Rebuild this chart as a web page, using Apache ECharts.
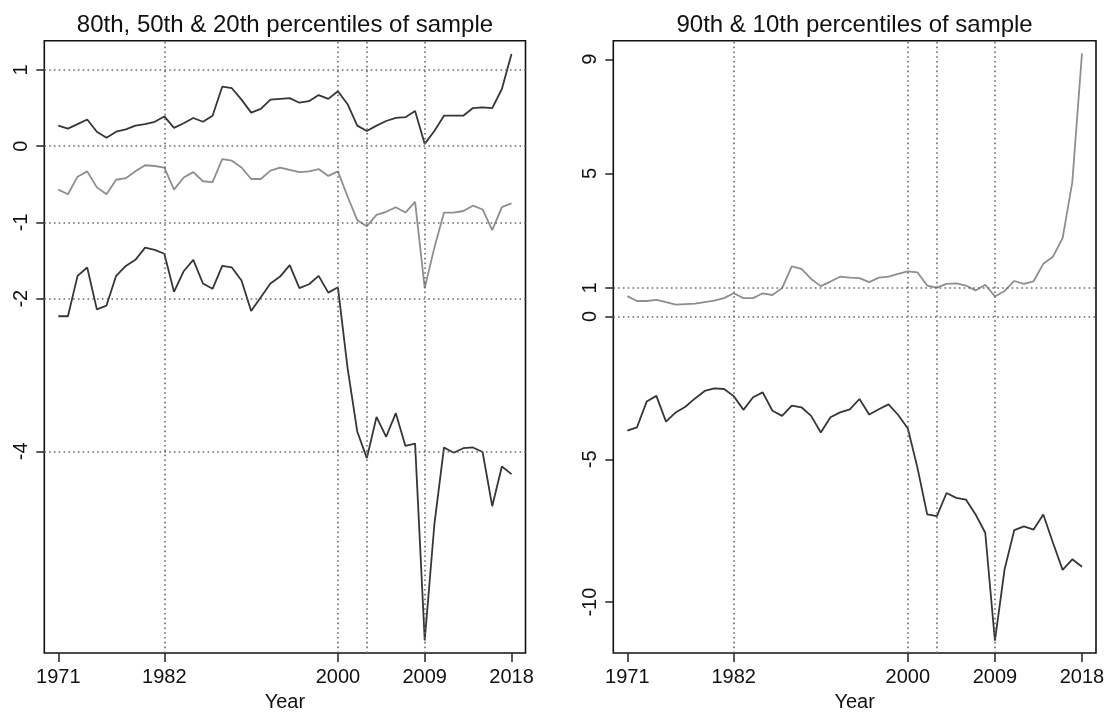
<!DOCTYPE html>
<html>
<head>
<meta charset="utf-8">
<script src="https://cdn.jsdelivr.net/npm/echarts@6/dist/echarts.min.js"></script>
<style>
html,body{margin:0;padding:0;background:#fff;}
#chart{width:1108px;height:717px;}
</style>
</head>
<body>
<div id="chart"></div>
<script>
// ---- data ----
const years = [1971,1972,1973,1974,1975,1976,1977,1978,1979,1980,
  1981,1982,1983,1984,1985,1986,1987,1988,1989,1990,
  1991,1992,1993,1994,1995,1996,1997,1998,1999,2000,
  2001,2002,2003,2004,2005,2006,2007,2008,2009,2010,
  2011,2012,2013,2014,2015,2016,2017,2018];

const p80 = [0.27,0.23,0.29,0.35,0.19,0.11,0.19,0.22,0.27,0.29,
  0.32,0.39,0.24,0.30,0.37,0.32,0.40,0.78,0.76,0.61,
  0.44,0.49,0.61,0.62,0.63,0.57,0.59,0.67,0.62,0.72,
  0.55,0.27,0.20,0.27,0.33,0.37,0.38,0.46,0.03,0.20,
  0.40,0.40,0.40,0.50,0.51,0.50,0.75,1.21];

const p50 = [-0.57,-0.63,-0.40,-0.33,-0.54,-0.63,-0.44,-0.42,-0.33,-0.25,
  -0.26,-0.28,-0.57,-0.41,-0.34,-0.46,-0.47,-0.17,-0.19,-0.28,
  -0.43,-0.43,-0.32,-0.28,-0.31,-0.34,-0.33,-0.30,-0.39,-0.33,
  -0.66,-0.97,-1.05,-0.90,-0.86,-0.80,-0.87,-0.73,-1.86,-1.33,
  -0.87,-0.87,-0.85,-0.78,-0.83,-1.10,-0.80,-0.75];

const p20 = [-2.23,-2.23,-1.70,-1.59,-2.14,-2.09,-1.70,-1.57,-1.49,-1.33,
  -1.36,-1.41,-1.91,-1.64,-1.49,-1.80,-1.87,-1.57,-1.59,-1.76,
  -2.16,-1.98,-1.80,-1.71,-1.56,-1.86,-1.81,-1.70,-1.92,-1.85,
  -2.91,-3.74,-4.09,-3.55,-3.81,-3.50,-3.93,-3.90,-6.48,-4.96,
  -3.95,-4.02,-3.96,-3.95,-4.01,-4.72,-4.20,-4.30];

const p90 = [0.71,0.54,0.54,0.58,0.50,0.41,0.43,0.45,0.50,0.55,
  0.64,0.81,0.64,0.64,0.81,0.75,0.99,1.75,1.66,1.31,
  1.06,1.22,1.39,1.36,1.34,1.20,1.36,1.39,1.49,1.58,
  1.54,1.08,1.01,1.14,1.16,1.08,0.91,1.11,0.70,0.89,
  1.24,1.14,1.23,1.84,2.09,2.74,4.70,9.21];

const p10 = [-4.00,-3.88,-2.98,-2.78,-3.68,-3.36,-3.16,-2.87,-2.61,-2.52,
  -2.54,-2.79,-3.27,-2.83,-2.66,-3.30,-3.48,-3.12,-3.18,-3.48,
  -4.06,-3.53,-3.36,-3.25,-2.89,-3.43,-3.25,-3.08,-3.45,-3.92,
  -5.31,-6.93,-6.99,-6.18,-6.35,-6.41,-6.93,-7.57,-11.35,-8.85,
  -7.48,-7.35,-7.46,-6.93,-7.92,-8.87,-8.50,-8.76];

const xTickLabels = [1971,1982,2000,2009,2018];
const leftYTicks = [1,0,-1,-2,-4];
const rightYTicks = [9,5,1,0,-5,-10];
const refYears = [1982,2000,2003,2009];
const leftRefLevels = [1,0,-1,-2,-4];
const rightRefLevels = [1,0];
const titles = ['80th, 50th & 20th percentiles of sample','90th & 10th percentiles of sample'];
const xName = 'Year';

// ---- chart ----
const FONT = 'Liberation Sans, Arial, sans-serif';
const DARK = '#363636';
const GREY = '#8e8e8e';
const pairs = (vals) => years.map((y, i) => [y, vals[i]]);

const grids = [
  {left: 44.3, top: 40.7, width: 481.2, height: 615.3},
  {left: 613.3, top: 40.7, width: 482.7, height: 615.3}
];

function xAxisFor(idx) {
  return {
    type: 'value', gridIndex: idx, min: 1969.55, max: 2019.45, position: 'bottom',
    name: xName, nameLocation: 'middle', nameGap: 39,
    nameTextStyle: {fontFamily: FONT, fontSize: 20, color: '#111'},
    axisLine: {show: false, onZero: false},
    splitLine: {show: false},
    axisTick: {show: true, inside: false, length: 9, customValues: xTickLabels,
      lineStyle: {color: '#222', width: 1.5}},
    axisLabel: {show: true, customValues: xTickLabels, margin: 14,
      fontFamily: FONT, fontSize: 20, color: '#111', formatter: (v) => String(v)}
  };
}
function yAxisFor(idx, min, max, ticks) {
  return {
    type: 'value', gridIndex: idx, min: min, max: max, position: 'left',
    axisLine: {show: false, onZero: false},
    splitLine: {show: false},
    axisTick: {show: true, inside: false, length: 8, customValues: ticks,
      lineStyle: {color: '#222', width: 1.5}},
    axisLabel: {show: true, customValues: ticks, rotate: 90, margin: 13,
      fontFamily: FONT, fontSize: 20, color: '#111', formatter: (v) => String(v)}
  };
}

function refLines(levels) {
  return {
    silent: true, symbol: 'none', animation: false,
    label: {show: false},
    lineStyle: {color: '#6a6a6a', width: 1.6, type: [1.6, 3.2]},
    emphasis: {disabled: true},
    data: refYears.map(y => ({xAxis: y})).concat(levels.map(v => ({yAxis: v})))
  };
}

function lineSeries(data, color, xi, yi, ml) {
  const s = {
    type: 'line', xAxisIndex: xi, yAxisIndex: yi, data: pairs(data),
    showSymbol: false, symbol: 'none', animation: false, silent: true,
    lineStyle: {color: color, width: 1.8}, itemStyle: {color: color}
  };
  if (ml) s.markLine = ml;
  return s;
}

const option = {
  backgroundColor: '#fff',
  animation: false,
  title: [
    {text: titles[0], left: 285, textAlign: 'center', top: 13, padding: 0,
     textStyle: {fontFamily: FONT, fontSize: 24, fontWeight: 'normal', color: '#111'}},
    {text: titles[1], left: 854.6, textAlign: 'center', top: 13, padding: 0,
     textStyle: {fontFamily: FONT, fontSize: 24, fontWeight: 'normal', color: '#111'}}
  ],
  grid: grids.map(g => Object.assign({show: true, borderColor: '#111', borderWidth: 1.6,
    backgroundColor: 'transparent', containLabel: false}, g)),
  xAxis: [xAxisFor(0), xAxisFor(1)],
  yAxis: [yAxisFor(0, -6.645, 1.383, leftYTicks), yAxisFor(1, -11.78, 9.65, rightYTicks)],
  series: [
    lineSeries(p80, DARK, 0, 0, refLines(leftRefLevels)),
    lineSeries(p50, GREY, 0, 0),
    lineSeries(p20, DARK, 0, 0),
    lineSeries(p90, GREY, 1, 1, refLines(rightRefLevels)),
    lineSeries(p10, DARK, 1, 1)
  ]
};

const chart = echarts.init(document.getElementById('chart'), null, {renderer: 'canvas'});
chart.setOption(option);
</script>
</body>
</html>
